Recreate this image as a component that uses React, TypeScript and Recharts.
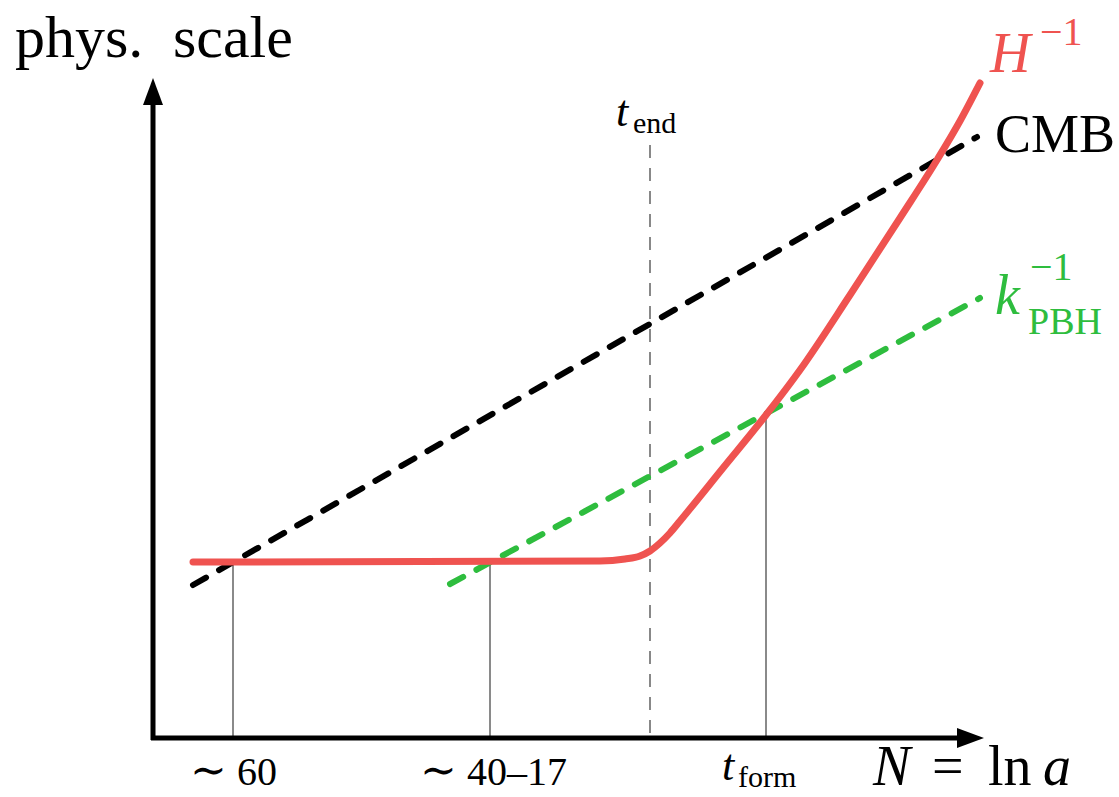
import { ComposedChart, Line, XAxis, YAxis } from "recharts";

const W = 1119;
const H = 797;

// all points in picture pixels (y grows downward, axis is reversed)
const hubble = [
  { x: 193, y: 562 }, { x: 600, y: 561 }, { x: 625, y: 559 }, { x: 640, y: 556 },
  { x: 650, y: 551 }, { x: 660, y: 543 }, { x: 670, y: 533 }, { x: 680, y: 521 },
  { x: 723, y: 468 }, { x: 766, y: 415 }, { x: 800, y: 370 }, { x: 850, y: 295 },
  { x: 900, y: 218 }, { x: 937, y: 160 }, { x: 960, y: 121 }, { x: 980, y: 83 },
];
const cmb = [{ x: 193, y: 585 }, { x: 977, y: 137 }];
const pbh = [{ x: 450, y: 584 }, { x: 980, y: 298 }];
const tEnd = [{ x: 650, y: 145 }, { x: 650, y: 738 }];
const drop60 = [{ x: 233, y: 562 }, { x: 233, y: 738 }];
const drop40 = [{ x: 490, y: 562 }, { x: 490, y: 738 }];
const dropForm = [{ x: 766, y: 415 }, { x: 766, y: 738 }];
const yAxisLine = [{ x: 153, y: 740 }, { x: 153, y: 100 }];
const xAxisLine = [{ x: 151, y: 738 }, { x: 962, y: 738 }];
const upTip = [{ x: 153, y: 78 }];
const rightTip = [{ x: 984, y: 738 }];

const RED = "#ef5350";
const GREEN = "#2ebd3e";
const FONT = "'Liberation Serif', 'DejaVu Serif', serif";

const UpArrow = (p: any) => (
  <polygon key="up" points={`${p.cx},${p.cy} ${p.cx - 10},${p.cy + 27} ${p.cx + 10},${p.cy + 27}`} fill="#000" />
);
const RightArrow = (p: any) => (
  <polygon key="right" points={`${p.cx},${p.cy} ${p.cx - 27},${p.cy - 10} ${p.cx - 27},${p.cy + 10}`} fill="#000" />
);

const plain = { dot: false, activeDot: false, isAnimationActive: false } as const;

export default function App() {
  const thin = { stroke: "#8a8a8a", strokeWidth: 2, ...plain } as const;
  return (
    <div style={{ position: "relative", width: W, height: H, background: "#fff" }}>
      <style>{`body{margin:0}`}</style>
      <ComposedChart width={W} height={H} margin={{ top: 0, right: 0, bottom: 0, left: 0 }}>
        <XAxis type="number" dataKey="x" domain={[0, W]} hide allowDataOverflow />
        <YAxis type="number" dataKey="y" domain={[0, H]} reversed hide allowDataOverflow />
        <Line data={drop60} dataKey="y" {...thin} />
        <Line data={drop40} dataKey="y" {...thin} />
        <Line data={dropForm} dataKey="y" {...thin} />
        <Line data={tEnd} dataKey="y" stroke="#6b6b6b" strokeWidth={1.6} strokeDasharray="13 10" {...plain} />
        <Line data={yAxisLine} dataKey="y" stroke="#000" strokeWidth={5} {...plain} />
        <Line data={xAxisLine} dataKey="y" stroke="#000" strokeWidth={5} {...plain} />
        <Line data={upTip} dataKey="y" stroke="none" dot={UpArrow} activeDot={false} isAnimationActive={false} />
        <Line data={rightTip} dataKey="y" stroke="none" dot={RightArrow} activeDot={false} isAnimationActive={false} />
        <Line data={cmb} dataKey="y" stroke="#000" strokeWidth={6} strokeDasharray="15 15" strokeLinecap="round" {...plain} />
        <Line data={pbh} dataKey="y" stroke={GREEN} strokeWidth={6} strokeDasharray="15 15" strokeLinecap="round" {...plain} />
        <Line data={hubble} dataKey="y" type="monotone" stroke={RED} strokeWidth={7} strokeLinecap="round" {...plain} />
      </ComposedChart>
      <svg width={W} height={H} style={{ position: "absolute", left: 0, top: 0, pointerEvents: "none" }} fontFamily={FONT}>
        <text x={15} y={57} fontSize={60}>phys.</text>
        <text x={173} y={57} fontSize={60}>scale</text>

        <text x={990} y={72} fontSize={56} fill={RED} fontStyle="italic">H</text>
        <text x={1040} y={45} fontSize={40} fill={RED}>−1</text>

        <text x={995} y={152} fontSize={54}>CMB</text>

        <text x={995} y={314} fontSize={56} fill={GREEN} fontStyle="italic">k</text>
        <text x={1030} y={280} fontSize={40} fill={GREEN}>−1</text>
        <text x={1028} y={334} fontSize={38} fill={GREEN}>PBH</text>

        <text x={616} y={126} fontSize={44} fontStyle="italic">t</text>
        <text x={633} y={133} fontSize={30}>end</text>

        <text x={190} y={785} fontSize={40}>
          <tspan fontFamily="'DejaVu Serif'" fontSize={44}>∼</tspan> 60
        </text>
        <text x={420} y={785} fontSize={40}>
          <tspan fontFamily="'DejaVu Serif'" fontSize={44}>∼</tspan> 40–17
        </text>
        <text x={722} y={780} fontSize={44} fontStyle="italic">t</text>
        <text x={738} y={787} fontSize={30}>form</text>

        <text x={873} y={785} fontSize={56} fontStyle="italic">N</text>
        <text x={932} y={785} fontSize={56}>=</text>
        <text x={988} y={785} fontSize={56}>ln</text>
        <text x={1043} y={785} fontSize={56} fontStyle="italic">a</text>
      </svg>
    </div>
  );
}
